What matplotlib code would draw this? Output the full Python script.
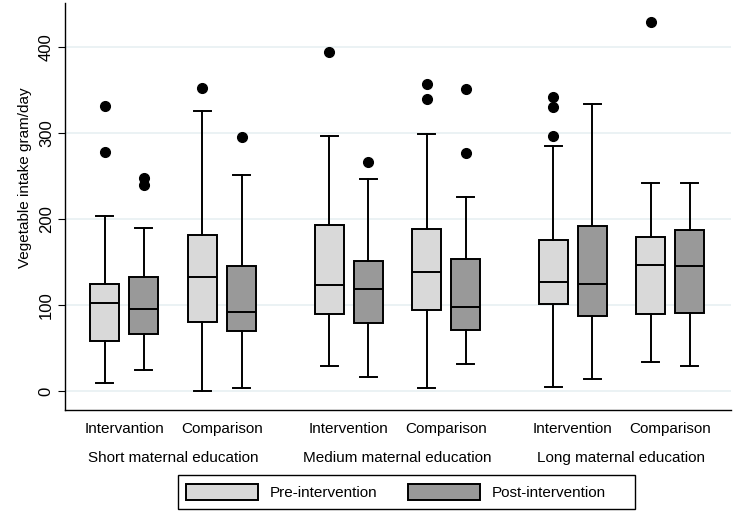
import matplotlib
matplotlib.use("Agg")
import matplotlib.pyplot as plt
from matplotlib.patches import Patch, Rectangle

plt.rcParams['font.family'] = ['Liberation Sans', 'DejaVu Sans']

# data (gram/day)
educ = ["Short maternal education", "Medium maternal education", "Long maternal education"]
arms = [["Intervantion", "Comparison"], ["Intervention", "Comparison"], ["Intervention", "Comparison"]]
periods = ["Pre-intervention", "Post-intervention"]

# order: edu -> arm -> period
whislo = [9.7, 24.8, 0.0, 3.5, 29.5, 16.7, 3.9, 31.0, 5.0, 14.0, 34.0, 29.5]
q1 =     [58.5, 66.6, 80.6, 70.0, 89.0, 79.5, 94.6, 71.0, 101.0, 86.8, 89.5, 90.7]
med =    [102.0, 95.3, 132.0, 91.5, 123.0, 118.6, 138.8, 98.0, 126.7, 124.8, 146.5, 145.3]
q3 =     [124.8, 133.0, 181.0, 145.0, 193.0, 151.5, 188.0, 153.0, 175.6, 191.5, 179.0, 187.0]
whishi = [204.0, 189.0, 325.6, 251.5, 296.5, 246.0, 299.0, 226.0, 285.0, 333.7, 241.9, 241.5]
fliers = [[331, 277.5], [248, 240], [352], [295],
          [394.5], [266], [356.6, 339], [350.8, 277],
          [341.5, 330.6, 296.5], [], [428.7], []]

colors = ["#d9d9d9", "#999999"]

W, H = 746, 511
fig = plt.figure(figsize=(W / 100, H / 100), dpi=100)
ax = fig.add_axes([0.0871, 0.1977, 0.8929, 0.7963])

P, A, G, x0 = 39.0, 97.5, 224.0, 105.0
stats, pos, cols = [], [], []
n = 0
for i in range(3):
    for j in range(2):
        for k in range(2):
            stats.append(dict(whislo=whislo[n], q1=q1[n], med=med[n], q3=q3[n],
                              whishi=whishi[n], fliers=fliers[n]))
            pos.append(x0 + i * G + j * A + k * P)
            cols.append(colors[k])
            n += 1

lw = 1.4
bp = ax.bxp(stats, positions=pos, widths=29, capwidths=17, patch_artist=True,
            showfliers=True,
            boxprops=dict(edgecolor="black", linewidth=lw),
            medianprops=dict(color="black", linewidth=lw),
            whiskerprops=dict(color="black", linewidth=lw),
            capprops=dict(color="black", linewidth=lw),
            flierprops=dict(marker="o", markerfacecolor="black", markeredgecolor="black",
                            markersize=7))
for b, c in zip(bp["boxes"], cols):
    b.set_facecolor(c)

ax.set_xlim(65, 731)
ax.set_ylim(-22, 451)
ax.set_yticks([0, 100, 200, 300, 400])
ax.yaxis.grid(True, color="#e8f0f2", linewidth=1.2)
ax.set_axisbelow(True)
for s in ["top", "right"]:
    ax.spines[s].set_visible(False)
ax.spines["left"].set_linewidth(1.0)
ax.spines["bottom"].set_linewidth(1.0)
ax.tick_params(axis="y", length=5, labelsize=12, pad=3)
for t in ax.get_yticklabels():
    t.set_rotation(90)
    t.set_va("center")
ax.set_ylabel("Vegetable intake gram/day", fontsize=11, labelpad=2)
ax.yaxis.set_label_coords(-0.0495, 0.57)

centers = []
labels = []
for i in range(3):
    for j in range(2):
        centers.append(x0 + i * G + j * A + P / 2)
        labels.append(arms[i][j])
ax.set_xticks(centers)
ax.set_xticklabels(labels, fontsize=11)
ax.tick_params(axis="x", length=0, pad=9)

for i in range(3):
    ax.text(x0 + i * G + (A + P) / 2, -0.118, educ[i], transform=ax.get_xaxis_transform(),
            ha="center", va="center", fontsize=11)

# legend: Stata-style frame with extra room on the right
handles = [Patch(facecolor=c, edgecolor="black", linewidth=lw) for c in colors]
leg = fig.legend(handles, periods, loc="center", bbox_to_anchor=(396 / W, 1 - 492 / H),
                 ncol=2, fontsize=11, frameon=False,
                 handlelength=4.7, handleheight=1.3, columnspacing=2.0, handletextpad=0.8,
                 borderpad=0, borderaxespad=0)
fig.patches.append(Rectangle((178 / W, 1 - 509 / H), (635 - 178) / W, 34 / H,
                             transform=fig.transFigure, fill=False,
                             edgecolor="black", linewidth=1.0))

fig.savefig("out.png", dpi=100)
